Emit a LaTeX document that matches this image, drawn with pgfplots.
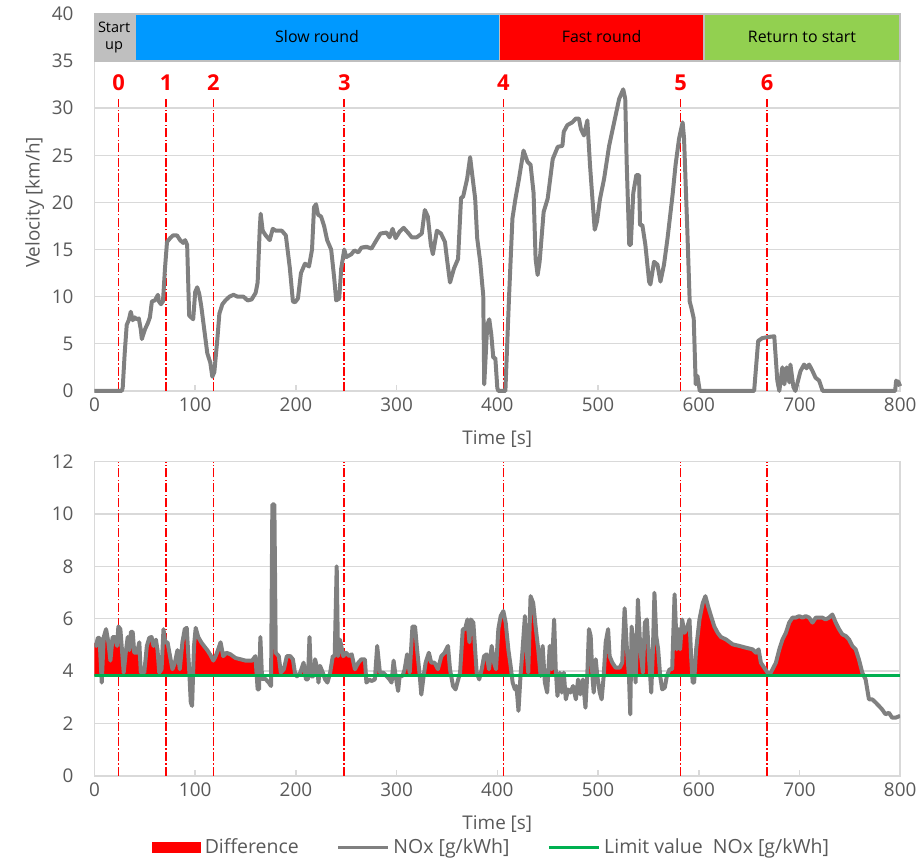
\documentclass[border=0pt]{standalone}
\usepackage{fontspec}
\setmainfont{Open Sans}
\usepackage{pgfplots}
\usepackage{pgfplotstable}
\pgfplotsset{compat=1.18}
\usepgfplotslibrary{fillbetween}

\definecolor{txt}{HTML}{595959}
\definecolor{gridc}{HTML}{D9D9D9}
\definecolor{linegray}{HTML}{808080}
\definecolor{limgreen}{HTML}{00B050}
\definecolor{slowblue}{HTML}{0099FF}
\definecolor{fastred}{HTML}{FF0000}
\definecolor{retgreen}{HTML}{92D050}
\definecolor{startgray}{HTML}{BFBFBF}

% velocity trace
\pgfplotstableread{
t v
0 0
24 0
27 0
28 0.3
30 4
32 7
34 7.5
36 8.4
38 7.5
40 7.8
42 7.6
44 7.7
46 6.5
47 5.5
50 6.5
53 7.2
55 7.8
57 9.5
60 9.6
63 10.2
64 9.5
66 9.2
68 9.5
70 13
72 15.8
75 16.2
78 16.5
82 16.5
85 16
88 15.7
90 16
92 15.5
94 8
96 7.8
98 7.6
100 10.5
102 11
104 10.3
106 9
109 6.5
112 4
115 3
117 1.5
119 2
122 5.5
124 8.2
127 9.2
130 9.6
134 10
138 10.2
142 10
148 10
152 9.6
156 9.7
160 10.4
162 11.5
164 17
165 18.8
167 17
170 16.5
174 16
177 17.2
180 17
186 17
190 16.5
194 13
197 9.5
199 9.4
202 9.8
205 12.5
209 13.5
213 13.2
216 15
218 19.5
220 19.8
222 18.7
225 18.5
228 17.5
231 16
235 15
238 12
240 9.6
243 9.8
245 13
248 15
250 14.2
255 14.5
258 14.9
262 14.7
265 15.2
270 15.3
275 15.1
280 16
284 16.7
290 16.8
293 16.3
296 17.2
299 16.2
303 16.9
307 17.3
312 16.7
315 16.3
320 16.3
325 16.7
328 19.2
331 18.5
334 15.5
336 14.5
340 17
344 16.7
348 15.8
350 14
353 11.5
357 13
361 14
364 20.5
366 20.6
370 22.5
373 24.8
375 23
378 20.4
380 16.2
383 13.7
385 11.3
386 10.2
387 0.7
390 7
392 7.6
394 6
396 3.5
398 3.5
400 0.3
401 0
408 0
411.6 9.9
415 18.3
418 20.4
421.5 22.5
426 25.5
430 24.3
433 24
436 21
438 14
440 12.3
442 13.7
446 19
450 20.4
455 24.6
460 25.9
464.6 26
466 27.5
469.5 28.2
474.5 28.5
478 28.9
481 28.9
483 27.8
486 27.1
489.4 28.7
492 24
494 21
496.7 17.1
499 18
502 20.4
506 22.5
511 26
516 28.5
521 31
525 32
527 31
528.5 24
531 15.5
532.5 15.5
535 21
538 22.9
540.7 22.9
541.7 17.6
544 17.6
547 15.5
550.7 11.6
552 11.3
555.6 13.7
559 13.4
562 11.6
565.5 13.4
569 16.2
574 20.8
577 24
580.5 26.8
584 28.5
585.4 26.8
588.7 16.9
591 9.5
592.7 8.8
595 7.7
597 0.7
598.7 1.6
601 0
655 0
659 5.3
663 5.6
668 5.7
675 5.8
678 1.1
680 0
683 2.5
685 0.7
687.4 2.5
690 0.9
691 2.8
694 0.4
696 0
701 2.1
704.6 2.8
707 2.4
709.6 2.8
713 2.1
716 1.4
719.5 1.1
723 0
795 0
796 1.1
797 0.9
798 1.0
800 0.5
}\veldata

% NOx trace
\pgfplotstableread{
t n
0 5.08
1.6 4.96
3.3 5.27
5 5.27
7.2 3.56
9.2 5.3
11.5 5.6
13.8 5.1
15.8 4.4
18 5.3
20.4 5.3
22.4 4.96
23.7 5.7
25.7 5.6
27.3 4.8
29 3.94
31.3 4.8
33 5.3
34.6 4.8
36.2 5.5
37.9 5.5
39.5 4.7
42.2 4.7
44.5 5.1
46 3.94
49.4 3.94
52 4.96
54.4 5.27
56.7 5.3
58.6 4.96
61 5.2
62.6 4.8
64.3 3.94
66.6 4.07
68.5 5.6
70.2 5.1
72.5 5.1
75 4.57
77.4 4.07
79.7 4.3
82.4 4.8
84.7 4.07
87.3 5.1
89.6 5.6
91.6 5.65
94 4.07
95.6 2.8
96.9 2.67
98.8 4.96
100.5 5.65
103 5.3
106 5.1
108.7 4.96
112 4.8
115.3 4.6
118 4.4
120.3 4.57
122.6 4.8
125.2 5.1
127.8 4.57
131 4.7
135 4.64
140 4.5
145 4.45
150 4.4
156.5 4.4
159.8 4.57
162 3.3
163.4 3.3
164.7 5.3
166.4 3.7
169.7 3.7
173 3.56
175.3 3.43
176.6 10.36
178.6 10.36
180 4.7
183 4.57
185 3.94
188 4.07
191 4.57
194.4 4.57
197 4.45
199.3 3.87
201 3.8
204.3 3.94
207.6 4.32
210 3.68
211.9 3.68
213.5 5.3
215 3.8
217.5 3.8
219 4.45
221.4 4.07
222.4 3.56
224 4.2
226.7 3.94
229 3.68
231.3 3.56
234 3.94
236.6 4.57
238.5 4.57
240.5 8.0
241.8 4.57
243.8 5.2
247 4.57
249.8 4.7
253 4.57
255.4 4.64
258.6 4.07
262 4.32
265 4.45
268.5 4.45
270 3.56
272.8 3.68
275 3.62
278.4 3.68
280.7 4.96
283.4 3.94
286.6 3.94
290 3.81
293 3.68
295 3.56
297 4.4
299 3.81
301.5 3.24
303 3.81
305.8 3.81
308 4.07
310.4 4.64
313 3.94
315.7 5.7
318.3 5.7
320.3 4.83
323 3.81
324.5 3.1
326.8 3.81
328.8 4.32
332 4.7
334.4 4.32
337.7 4.32
341 4.07
344.4 4.57
347.6 4.7
351 4.96
353 4.07
356 3.43
358.5 3.3
363 3.94
365.7 5.6
368 5.6
370.3 5.97
372.3 5.1
373.6 5.97
376.2 5.85
378 4.8
379.5 3.94
382 3.68
384.5 4.07
386.8 4.57
389.4 4.64
391.7 4.07
394.4 4.96
396.7 4.32
398.7 4.07
401 5.6
403.3 6.1
406 6.29
408.3 5.85
411 4.8
413.2 4.2
415.2 3.56
417.5 3.3
419 3.43
421 2.48
423 3.81
425 4.8
427.4 6.1
429 4.83
430.7 3.94
433 6.86
435.6 6.6
438.3 5.6
440.6 4.83
443 3.81
445 4.96
447.2 3.56
449.5 3.18
452 4.96
454 4.07
456.4 5.97
458 4.07
459.7 3.05
462 3.94
464 3.18
466 3.94
468 2.92
470.3 3.3
472.6 3.18
475.2 3.43
478 2.92
480.2 3.68
482.5 3.11
485 3.68
487.5 2.6
489.4 3.94
491 5.6
492.7 5.34
494.4 3.81
495.7 3.18
497.7 4.45
499.3 3.81
501.7 3.18
503.6 2.92
505.6 3.81
507.6 5.1
510 5.6
511.5 4.57
514.2 4.32
517.5 4.13
521.5 4.13
524 4.32
526.4 6.4
528.7 4.83
530.7 3.81
532 2.35
533.3 5.7
535.3 5.1
537.3 3.56
539.6 6.73
542 4.83
544.5 3.94
546.5 5.85
548.5 5.97
550.5 4.57
552.8 3.18
554.5 4.83
556 6.99
557.8 5.34
559.7 4.83
561.7 3.81
563.7 3.3
566.3 3.37
568.3 3.81
571 4.07
573.6 4.07
576 6.93
578.2 4.83
580.2 5.6
581.5 4.83
583.5 5.97
585.8 5.46
588 5.6
590.8 5.97
592.4 4.57
594 3.56
595.4 3.56
597.4 4.83
600.7 5.97
604 6.6
606.6 6.86
609.2 6.48
612.2 6.1
615.5 5.7
618.8 5.46
622 5.3
627 5.21
633.7 5.02
640.3 4.96
647 4.89
653.5 4.83
656.8 4.7
659.4 4.83
661.7 4.32
665 4.13
668.3 3.94
670.6 3.88
673.3 4.07
676.6 4.32
680 4.83
683.2 5.21
686.5 5.46
689.8 5.85
693 6.04
696.4 6.04
699.7 6.1
703 6.04
706.3 6.1
709.6 6.04
712.9 5.85
716.2 6.04
719.5 6.04
722.8 6.04
726 5.97
729.4 6.04
732.7 6.16
736 5.85
739.3 5.6
742.6 5.4
746 5.34
749.2 5.21
752.5 4.96
755.8 4.83
759 4.45
762.4 3.94
765.7 3.68
769 2.92
772.3 2.92
775.6 2.8
778.9 2.67
782 2.54
785.5 2.35
788.8 2.41
792 2.22
795.4 2.22
800 2.29
}\noxdata

\pgfplotsset{panel/.style={
  scale only axis, width=405pt, xmin=0, xmax=800,
  xtick={0,100,...,800}, xtick pos=left,
  ymajorgrids, grid style={gridc,line width=0.7pt},
  axis line style={gridc,line width=0.7pt},
  tick label style={font=\fontsize{9.5}{11}\selectfont,text=txt},
  label style={font=\fontsize{9.5}{11}\selectfont,text=txt},
  /pgf/number format/assume math mode=true,
  xtick style={gridc,line width=0.8pt}, major tick length=3pt, tick align=inside,
  ytick style={draw=none},
  yticklabel style={xshift=-7pt},
  xlabel={Time [s]},
  xlabel style={at={(axis description cs:0.5,0)},anchor=center,yshift=-24pt},
},
evline/.style={fastred,line width=0.8pt,dash pattern=on 4.5pt off 1.2pt on 0.6pt off 1.2pt,forget plot},
seg/.style={draw=startgray,line width=0.8pt,forget plot}}

\begin{document}
\begin{tikzpicture}

% --- top: velocity ---
\begin{axis}[panel, height=189.5pt, ymin=0, ymax=40, ytick={0,5,...,40},
  ylabel={Velocity [km/h]},
  ylabel style={at={(axis description cs:0,0.5)},anchor=center,yshift=30pt},
  clip=false]
\addplot[seg,fill=startgray] coordinates {(0,35)(40,35)(40,40)(0,40)(0,35)};
\addplot[seg,fill=slowblue] coordinates {(40,35)(402,35)(402,40)(40,40)(40,35)};
\addplot[seg,fill=fastred] coordinates {(402,35)(605,35)(605,40)(402,40)(402,35)};
\addplot[seg,fill=retgreen] coordinates {(605,35)(800,35)(800,40)(605,40)(605,35)};
\node[font=\fontsize{7.3}{9}\selectfont,align=center] at (axis cs:19.5,37.5) {Start\\up};
\node[font=\fontsize{8}{9}\selectfont] at (axis cs:221,37.6) {Slow round};
\node[font=\fontsize{8}{9}\selectfont] at (axis cs:503.5,37.6) {Fast round};
\node[font=\fontsize{8}{9}\selectfont] at (axis cs:702.5,37.6) {Return to start};

\addplot[evline] coordinates {(24,0)(24,31)};
\addplot[evline] coordinates {(71,0)(71,31)};
\addplot[evline] coordinates {(118,0)(118,31)};
\addplot[evline] coordinates {(248,0)(248,31)};
\addplot[evline] coordinates {(406,0)(406,31)};
\addplot[evline] coordinates {(582,0)(582,31)};
\addplot[evline] coordinates {(668,0)(668,31)};
\node[font=\bfseries\fontsize{11}{12}\selectfont,text=fastred] at (axis cs:24,32.7) {0};
\node[font=\bfseries\fontsize{11}{12}\selectfont,text=fastred] at (axis cs:71,32.7) {1};
\node[font=\bfseries\fontsize{11}{12}\selectfont,text=fastred] at (axis cs:118,32.7) {2};
\node[font=\bfseries\fontsize{11}{12}\selectfont,text=fastred] at (axis cs:248,32.7) {3};
\node[font=\bfseries\fontsize{11}{12}\selectfont,text=fastred] at (axis cs:406,32.7) {4};
\node[font=\bfseries\fontsize{11}{12}\selectfont,text=fastred] at (axis cs:582,32.7) {5};
\node[font=\bfseries\fontsize{11}{12}\selectfont,text=fastred] at (axis cs:668,32.7) {6};

\addplot[linegray,line width=2pt,line join=round] table[x=t,y=v] {\veldata};
\end{axis}

% --- bottom: NOx ---
\begin{axis}[panel, at={(0pt,-35.5pt)}, anchor=north west, height=158pt,
  ymin=0, ymax=12, ytick={0,2,...,12},
  legend style={draw=none,fill=none,legend columns=-1,at={(0.494,-0.228)},anchor=center,
    font=\fontsize{9.8}{11}\selectfont,text=txt,
    /tikz/every odd column/.append style={column sep=0pt},
    /tikz/every even column/.append style={column sep=17pt}},
  legend cell align=left]
\addplot[draw=none,name path=noxp,forget plot] table[x=t,y expr={max(\thisrow{n},3.82)}] {\noxdata};
\addplot[draw=none,name path=limp,forget plot] coordinates {(0,3.82)(800,3.82)};

\addplot[evline] coordinates {(24,0)(24,12)};
\addplot[evline] coordinates {(71,0)(71,12)};
\addplot[evline] coordinates {(118,0)(118,12)};
\addplot[evline] coordinates {(248,0)(248,12)};
\addplot[evline] coordinates {(406,0)(406,12)};
\addplot[evline] coordinates {(582,0)(582,12)};
\addplot[evline] coordinates {(668,0)(668,12)};

\addplot[fill=fastred,draw=none,
  legend image code/.code={\fill[fastred] (0pt,-3pt) rectangle (24.5pt,3pt);}]
  fill between[of=noxp and limp];
\addlegendentry{Difference}
\addplot[linegray,line width=2pt,line join=round,
  legend image code/.code={\draw[linegray,line width=1.6pt] (0pt,0pt) -- (25pt,0pt);}]
  table[x=t,y=n] {\noxdata};
\addlegendentry{NOx [g/kWh]}
\addplot[limgreen,line width=1.5pt,
  legend image code/.code={\draw[limgreen,line width=1.6pt] (0pt,0pt) -- (25pt,0pt);}]
  coordinates {(0,3.82)(800,3.82)};
\addlegendentry{Limit value\ \ NOx [g/kWh]}
\end{axis}
\path (-47.5pt,-235pt) rectangle (414pt,196.5pt);
\end{tikzpicture}
\end{document}
